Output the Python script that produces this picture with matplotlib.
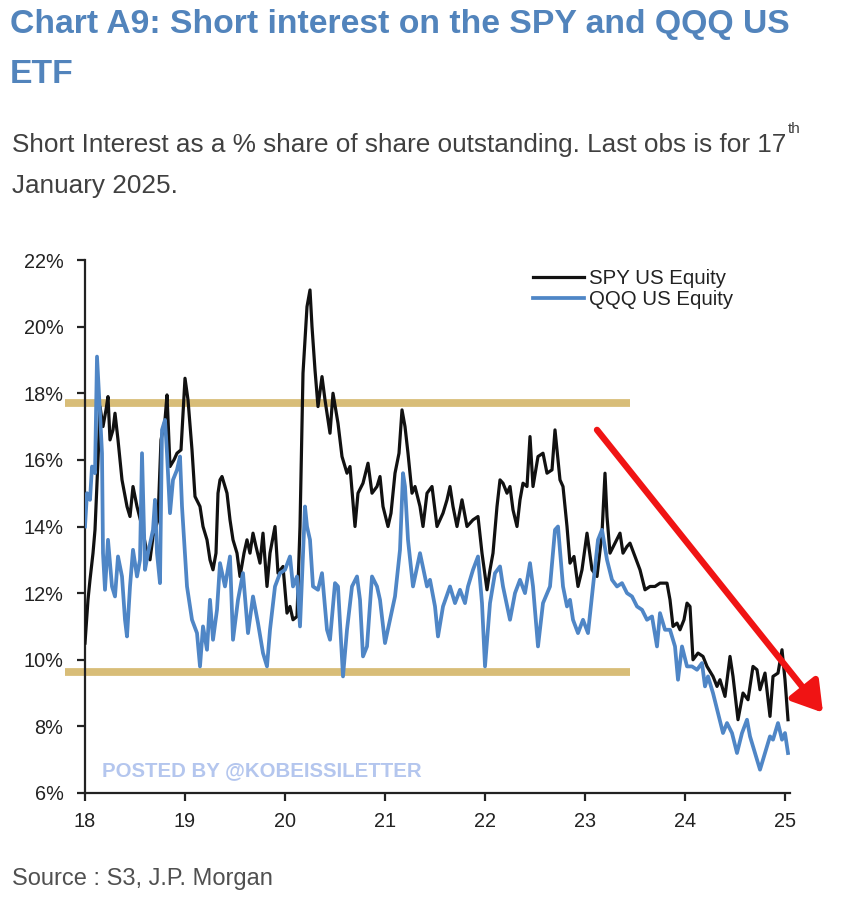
import matplotlib
matplotlib.use("Agg")
import matplotlib.pyplot as plt
from matplotlib import font_manager as fm
from matplotlib.patches import FancyArrowPatch

# ---------------- data ----------------
spy_x = [18.00, 18.03, 18.05, 18.08, 18.10, 18.13, 18.15, 18.18, 18.21, 18.23, 18.25, 18.28, 18.30, 18.33,
         18.37, 18.42, 18.45, 18.48, 18.52, 18.57, 18.62, 18.65, 18.68, 18.73, 18.76, 18.80, 18.82, 18.85,
         18.89, 18.92, 18.96, 19.00, 19.03, 19.07, 19.10, 19.15, 19.18, 19.22, 19.25, 19.28, 19.31, 19.33,
         19.35, 19.37, 19.42, 19.45, 19.48, 19.52, 19.55, 19.59, 19.62, 19.65, 19.68, 19.71, 19.75, 19.78,
         19.82, 19.85, 19.90, 19.93, 19.98, 20.02, 20.05, 20.08, 20.12, 20.15, 20.18, 20.22, 20.25, 20.27,
         20.30, 20.33, 20.37, 20.40, 20.45, 20.48, 20.53, 20.57, 20.62, 20.65, 20.70, 20.73, 20.78, 20.83,
         20.87, 20.92, 20.95, 20.98, 21.03, 21.06, 21.10, 21.14, 21.17, 21.20, 21.23, 21.27, 21.30, 21.35,
         21.38, 21.42, 21.47, 21.52, 21.58, 21.62, 21.65, 21.68, 21.72, 21.77, 21.82, 21.88, 21.93, 21.97,
         22.02, 22.05, 22.08, 22.12, 22.15, 22.18, 22.22, 22.25, 22.28, 22.32, 22.35, 22.38, 22.42, 22.45,
         22.48, 22.53, 22.58, 22.62, 22.67, 22.70, 22.75, 22.78, 22.82, 22.85, 22.89, 22.93, 22.97, 23.02,
         23.07, 23.12, 23.17, 23.20, 23.22, 23.25, 23.30, 23.35, 23.38, 23.42, 23.45, 23.50, 23.55, 23.60,
         23.65, 23.70, 23.75, 23.82, 23.85, 23.88, 23.92, 23.95, 23.99, 24.02, 24.05, 24.08, 24.13, 24.18,
         24.22, 24.28, 24.32, 24.35, 24.40, 24.45, 24.48, 24.53, 24.58, 24.63, 24.68, 24.72, 24.75, 24.80,
         24.85, 24.88, 24.93, 24.97, 25.00, 25.03]
spy_y = [10.5, 11.8, 12.4, 13.2, 13.9, 16.0, 17.6, 17.0, 17.5, 17.9, 16.6, 16.9, 17.4, 16.6,
         15.4, 14.6, 14.3, 15.2, 14.6, 14.0, 13.2, 13.0, 13.7, 14.2, 16.6, 17.2, 17.95, 15.8,
         16.0, 16.2, 16.3, 18.45, 17.8, 16.3, 14.9, 14.6, 14.0, 13.6, 13.0, 12.7, 13.2, 15.0,
         15.4, 15.5, 15.0, 14.2, 13.6, 13.2, 12.5, 13.2, 13.6, 13.2, 13.8, 13.4, 12.9, 13.8,
         12.2, 13.2, 14.0, 12.6, 12.8, 11.4, 11.6, 11.2, 11.3, 14.0, 18.6, 20.6, 21.1, 20.0,
         18.7, 17.6, 18.5, 17.8, 16.8, 18.0, 17.1, 16.1, 15.6, 15.8, 14.0, 15.0, 15.3, 15.9,
         15.0, 15.2, 15.5, 14.6, 14.0, 14.4, 15.6, 16.2, 17.5, 17.0, 16.2, 15.0, 15.2, 14.6,
         14.0, 15.0, 15.2, 14.0, 14.4, 14.8, 15.2, 14.6, 14.0, 14.8, 14.0, 14.2, 14.3, 13.2,
         12.1, 12.7, 13.2, 14.6, 15.4, 15.3, 15.0, 15.2, 14.5, 14.0, 14.8, 15.3, 15.2, 16.7,
         15.2, 16.1, 16.2, 15.6, 15.7, 16.9, 15.4, 15.2, 14.0, 12.9, 13.1, 12.2, 12.7, 13.8,
         12.7, 12.5, 13.8, 15.6, 14.3, 13.2, 13.5, 13.8, 13.2, 13.4, 13.5, 13.1, 12.7, 12.1,
         12.2, 12.2, 12.3, 12.3, 11.8, 11.0, 11.1, 10.9, 11.2, 11.7, 11.6, 10.0, 10.2, 10.1,
         9.8, 9.5, 9.2, 9.4, 8.9, 10.1, 9.5, 8.2, 9.0, 8.8, 9.8, 9.7, 9.1, 9.6,
         8.3, 9.5, 9.6, 10.3, 9.4, 8.2]

qqq_x = [18.00, 18.02, 18.05, 18.07, 18.10, 18.12, 18.15, 18.17, 18.18, 18.20, 18.23, 18.27, 18.30, 18.33,
         18.37, 18.40, 18.42, 18.45, 18.48, 18.52, 18.55, 18.57, 18.60, 18.63, 18.68, 18.70, 18.72, 18.75,
         18.77, 18.80, 18.82, 18.85, 18.88, 18.92, 18.95, 18.97, 19.02, 19.07, 19.12, 19.15, 19.18, 19.22,
         19.25, 19.28, 19.32, 19.35, 19.40, 19.45, 19.48, 19.53, 19.58, 19.63, 19.68, 19.73, 19.78, 19.82,
         19.85, 19.90, 19.95, 20.00, 20.05, 20.08, 20.12, 20.15, 20.18, 20.20, 20.22, 20.25, 20.28, 20.33,
         20.37, 20.42, 20.45, 20.50, 20.53, 20.58, 20.62, 20.67, 20.72, 20.75, 20.78, 20.82, 20.87, 20.92,
         20.95, 21.00, 21.05, 21.10, 21.15, 21.18, 21.20, 21.23, 21.28, 21.35, 21.42, 21.45, 21.50, 21.53,
         21.58, 21.65, 21.70, 21.75, 21.80, 21.83, 21.88, 21.93, 21.97, 22.00, 22.05, 22.10, 22.15, 22.18,
         22.25, 22.30, 22.35, 22.40, 22.45, 22.48, 22.53, 22.58, 22.65, 22.70, 22.73, 22.78, 22.82, 22.85,
         22.88, 22.93, 22.98, 23.03, 23.08, 23.13, 23.17, 23.22, 23.27, 23.32, 23.37, 23.42, 23.47, 23.52,
         23.57, 23.62, 23.67, 23.72, 23.75, 23.80, 23.85, 23.90, 23.93, 23.97, 24.02, 24.07, 24.12, 24.17,
         24.20, 24.23, 24.28, 24.33, 24.38, 24.42, 24.47, 24.52, 24.57, 24.62, 24.65, 24.70, 24.75, 24.80,
         24.85, 24.88, 24.93, 24.97, 25.00, 25.03]
qqq_y = [14.0, 15.0, 14.8, 15.8, 15.6, 19.1, 17.4, 16.2, 13.2, 12.1, 13.6, 12.2, 11.9, 13.1,
         12.5, 11.2, 10.7, 12.2, 13.3, 12.5, 13.0, 16.2, 12.7, 13.2, 13.9, 14.8, 13.2, 12.3,
         16.9, 17.2, 16.2, 14.4, 15.4, 15.7, 16.1, 14.6, 12.2, 11.2, 10.8, 9.8, 11.0, 10.3,
         11.8, 10.6, 11.5, 12.9, 12.2, 13.1, 10.6, 11.8, 12.6, 10.8, 11.9, 11.1, 10.2, 9.8,
         10.9, 12.2, 12.6, 12.7, 13.1, 12.2, 12.5, 11.0, 13.2, 14.6, 14.0, 13.6, 12.2, 12.1,
         12.6, 10.9, 10.6, 12.3, 12.2, 9.5, 10.9, 12.2, 12.5, 11.8, 10.1, 10.4, 12.5, 12.2,
         11.8, 10.5, 11.2, 11.9, 13.3, 15.6, 15.2, 13.6, 12.2, 13.2, 12.2, 12.4, 11.6, 10.7,
         11.6, 12.2, 11.7, 12.1, 11.7, 12.2, 12.7, 13.1, 11.7, 9.8, 11.7, 12.6, 12.8, 12.2,
         11.2, 12.0, 12.4, 12.0, 12.9, 12.2, 10.4, 11.7, 12.2, 13.9, 14.0, 12.2, 11.6, 11.8,
         11.2, 10.8, 11.2, 10.8, 12.2, 13.6, 13.9, 13.0, 12.4, 12.2, 12.3, 12.0, 11.9, 11.6,
         11.5, 11.2, 11.3, 10.4, 11.4, 10.9, 10.9, 10.4, 9.4, 10.4, 9.8, 9.8, 9.7, 9.9,
         9.2, 9.5, 9.0, 8.4, 7.8, 8.1, 7.8, 7.2, 7.8, 8.2, 7.7, 7.2, 6.7, 7.2,
         7.7, 7.6, 8.1, 7.6, 7.8, 7.2]

band_levels = [17.7, 9.64]
band_span = [17.8, 23.45]
arrow_start = (23.12, 16.9)
arrow_end = (25.38, 8.41)

series_labels = ["SPY US Equity", "QQQ US Equity"]
x_ticks = [18, 19, 20, 21, 22, 23, 24, 25]
x_ticklabels = ["18", "19", "20", "21", "22", "23", "24", "25"]
y_ticks = [6, 8, 10, 12, 14, 16, 18, 20, 22]
y_ticklabels = ["6%", "8%", "10%", "12%", "14%", "16%", "18%", "20%", "22%"]

title_l1 = "Chart A9: Short interest on the SPY and QQQ US"
title_l2 = "ETF"
sub_l1 = "Short Interest as a % share of share outstanding. Last obs is for 17"
sub_sup = "th"
sub_l2 = "January 2025."
source = "Source : S3, J.P. Morgan"
watermark = "POSTED BY @KOBEISSILETTER"

# ---------------- fonts ----------------
names = {f.name for f in fm.fontManager.ttflist}
REG = "Liberation Sans" if "Liberation Sans" in names else "DejaVu Sans"
if "Liberation Sans Narrow" in names:
    NARROW, nscale = "Liberation Sans Narrow", 1.0
else:
    NARROW, nscale = REG, 0.84

# ---------------- figure ----------------
W, H = 848, 900
fig = plt.figure(figsize=(W / 100, H / 100), dpi=100)
fig.patch.set_facecolor("white")

def fx(px):
    return px / W

def fy(py):
    return 1 - py / H

ax = fig.add_axes([fx(85), fy(793), fx(790) - fx(85), fy(260) - fy(793)])
ax.set_xlim(18, 25.05)
ax.set_ylim(6, 22)

for lvl in band_levels:
    ax.plot(band_span, [lvl, lvl], color="#d8bd78", lw=5.6, solid_capstyle="butt",
            clip_on=False, zorder=1)

ax.plot(spy_x, spy_y, color="#111111", lw=2.3, label=series_labels[0], zorder=3,
        solid_joinstyle="round")
ax.plot(qqq_x, qqq_y, color="#4f86c6", lw=2.7, label=series_labels[1], zorder=4,
        solid_joinstyle="round")

arr = FancyArrowPatch(arrow_start, arrow_end, arrowstyle="-|>,head_length=1.05,head_width=0.65",
                      mutation_scale=17, color="#f01414", lw=4.6, shrinkA=0, shrinkB=0,
                      clip_on=False, zorder=6, transform=ax.transData)
ax.add_patch(arr)

for s in ["top", "right"]:
    ax.spines[s].set_visible(False)
for s in ["left", "bottom"]:
    ax.spines[s].set_linewidth(1.6)
    ax.spines[s].set_color("#222222")

ax.set_xticks(x_ticks)
ax.set_xticklabels(x_ticklabels)
ax.set_yticks(y_ticks)
ax.set_yticklabels(y_ticklabels)
ax.tick_params(axis="both", direction="out", length=5.5, width=1.6, color="#222222",
               labelcolor="#222222")
ax.tick_params(axis="y", pad=10)
ax.tick_params(axis="x", pad=8)
for lab in ax.get_xticklabels() + ax.get_yticklabels():
    lab.set_fontfamily(NARROW)
    lab.set_fontsize(17 * nscale)

leg = ax.legend(loc="upper left", bbox_to_anchor=(fx(533), fy(269)), bbox_transform=fig.transFigure,
                frameon=False, borderpad=0, borderaxespad=0, handlelength=2.5, handletextpad=0.25,
                labelspacing=0.12, prop={"family": NARROW, "size": 17.5 * nscale})
for t in leg.get_texts():
    t.set_color("#222222")

ax.text(fx(102), fy(776), watermark, transform=fig.transFigure, fontfamily=REG, fontweight="bold",
        fontsize=14.7, color="#b4c6ee", va="baseline", ha="left", zorder=2)

# ---------------- texts ----------------
tcol = "#5284bc"
fig.text(fx(10), fy(33), title_l1, fontfamily=REG, fontweight="bold", fontsize=24.3, color=tcol,
         va="baseline", ha="left")
fig.text(fx(10), fy(83), title_l2, fontfamily=REG, fontweight="bold", fontsize=24.3, color=tcol,
         va="baseline", ha="left")
scol = "#404040"
fig.text(fx(12), fy(152), sub_l1, fontfamily=REG, fontsize=18.8, color=scol, va="baseline", ha="left")
fig.text(fx(788), fy(133), sub_sup, fontfamily=REG, fontsize=11, color=scol, va="baseline", ha="left")
fig.text(fx(12), fy(193), sub_l2, fontfamily=REG, fontsize=18.8, color=scol, va="baseline", ha="left")
fig.text(fx(12), fy(885), source, fontfamily=REG, fontsize=17, color="#505050", va="baseline", ha="left")

fig.savefig("out.png", dpi=100, facecolor="white")
